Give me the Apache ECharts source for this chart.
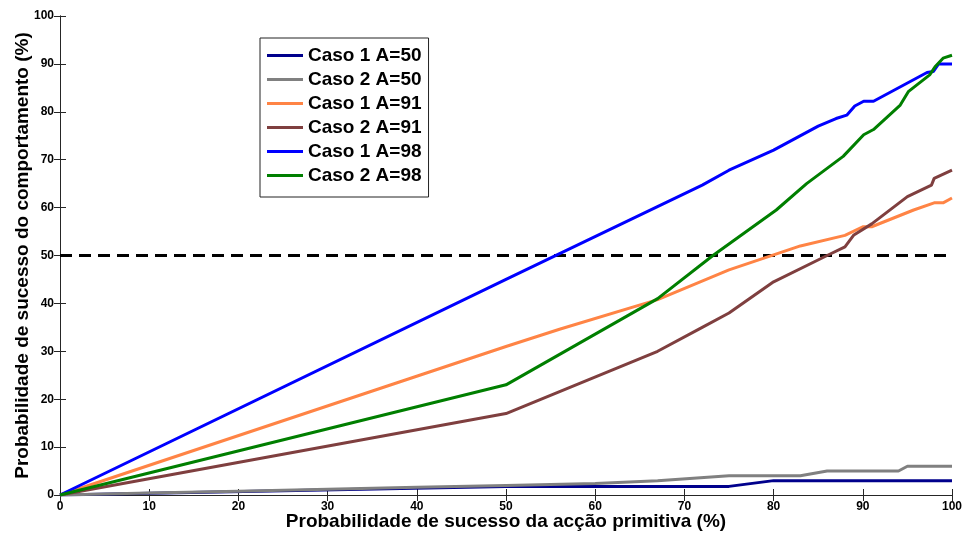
<!DOCTYPE html>
<html>
<head>
<meta charset="utf-8">
<script src="https://cdn.jsdelivr.net/npm/echarts@6/dist/echarts.min.js"></script>
<style>html,body{margin:0;padding:0;background:#fff}#c{width:962px;height:535px}</style>
</head>
<body>
<div id="c"></div>
<script>
const seriesNames = ["Caso 1 A=50", "Caso 2 A=50", "Caso 1 A=91", "Caso 2 A=91", "Caso 1 A=98", "Caso 2 A=98"];
const xTicks = [0, 10, 20, 30, 40, 50, 60, 70, 80, 90, 100];
const yTicks = [0, 10, 20, 30, 40, 50, 60, 70, 80, 90, 100];
const caso1A50 = [[0,0],[50,1.8],[75,1.8],[80,3],[100,3]];
const caso2A50 = [[0,0],[10,0.4],[20,0.8],[30,1.2],[40,1.6],[50,2],[60,2.4],[67,3],[75,4],[83,4],[86,5],[94,5],[95,6],[100,6]];
const caso1A91 = [[0,0],[50,31],[56,34.6],[67,40.8],[75,47],[79,49.5],[83,52],[88,54.2],[90,56],[91,56],[95.7,59.5],[98,61],[99,61],[100,62]];
const caso2A91 = [[0,0],[50,17],[67,30],[72,35],[75,38],[80,44.5],[86,50],[88,51.8],[89,54.3],[91,56.6],[95,62.3],[97.7,64.7],[98,66.1],[100,67.8]];
const caso1A98 = [[0,0],[50,45],[72,64.7],[75,67.8],[80,72],[85,77],[87,78.6],[88.2,79.3],[89.1,81.2],[90.1,82.2],[91.2,82.2],[97.2,88.2],[97.9,88.4],[98.5,90],[100,90]];
const caso2A98 = [[0,0],[50,23],[67,41],[73.2,50],[80.3,59.5],[83.7,65],[87.8,70.7],[90.1,75.2],[91.2,76.3],[94.2,81.4],[95.1,84.2],[97.5,87.7],[98.1,89.4],[99,91.2],[100,91.8]];
const threshold = [[0,50],[100,50]];
const colors = ["#00008c", "#808080", "#ff8445", "#7f3f3f", "#0000ff", "#007f00"];
const dataSets = [caso1A50, caso2A50, caso1A91, caso2A91, caso1A98, caso2A98];

const tickFont = {fontFamily: "'Liberation Sans',Arial,sans-serif", fontWeight: 'bold', fontSize: 12, color: '#000'};
const axisLineStyle = {lineStyle: {color: '#262626', width: 1}};
const tickStyle = {show: true, inside: true, length: 6, lineStyle: {color: '#262626'}};
const titleFont = {fontFamily: "'Liberation Sans',Arial,sans-serif", fontWeight: 'bold', fontSize: 19, color: '#000'};

const chart = echarts.init(document.getElementById('c'), null, {renderer: 'canvas'});
const series = dataSets.map((d, i) => ({
  name: seriesNames[i], type: 'line', data: d, showSymbol: false, symbol: 'none',
  lineStyle: {color: colors[i], width: 3}, itemStyle: {color: colors[i]}, animation: false, z: 2 + i
}));
series.push({
  name: 'limiar', type: 'line', data: threshold, showSymbol: false, symbol: 'none',
  lineStyle: {color: '#000', width: 3, type: [12, 7]}, animation: false, z: 1
});
chart.setOption({
  animation: false,
  backgroundColor: '#fff',
  grid: {left: 60, right: 10, top: 16, bottom: 40, show: false, containLabel: false, outerBoundsMode: 'none'},
  legend: {
    data: seriesNames, orient: 'vertical', left: 260, top: 38,
    backgroundColor: '#fff', borderColor: '#222', borderWidth: 1, borderRadius: 0,
    padding: [8, 7, 12, 7], itemGap: 5, itemWidth: 36, itemHeight: 3, icon: 'rect',
    textStyle: {fontFamily: "'Liberation Sans',Arial,sans-serif", fontWeight: 'bold', fontSize: 19, lineHeight: 19, color: '#000'}
  },
  xAxis: [{
    type: 'value', min: 0, max: 100, interval: 10, position: 'bottom',
    name: 'Probabilidade de sucesso da acção primitiva (%)', nameLocation: 'middle', nameGap: 17, nameMoveOverlap: false,
    nameTextStyle: titleFont,
    axisLine: Object.assign({show: true}, axisLineStyle), axisTick: tickStyle,
    axisLabel: Object.assign({margin: 6, formatter: v => xTicks.includes(v) ? String(v) : ''}, tickFont),
    splitLine: {show: false}
  }, {
    type: 'value', min: 0, max: 100, interval: 10, position: 'top',
    axisLine: Object.assign({show: true}, axisLineStyle), axisTick: tickStyle,
    axisLabel: {show: false}, splitLine: {show: false}
  }],
  yAxis: [{
    type: 'value', min: 0, max: 100, interval: 10, position: 'left',
    name: 'Probabilidade de sucesso do comportamento (%)', nameLocation: 'middle', nameGap: 28, nameMoveOverlap: false,
    nameTextStyle: titleFont,
    axisLine: Object.assign({show: true}, axisLineStyle), axisTick: tickStyle,
    axisLabel: Object.assign({margin: 6, formatter: v => yTicks.includes(v) ? String(v) : ''}, tickFont),
    splitLine: {show: false}
  }, {
    type: 'value', min: 0, max: 100, interval: 10, position: 'right',
    axisLine: Object.assign({show: true}, axisLineStyle), axisTick: tickStyle,
    axisLabel: {show: false}, splitLine: {show: false}
  }],
  series: series
});
</script>
</body>
</html>
